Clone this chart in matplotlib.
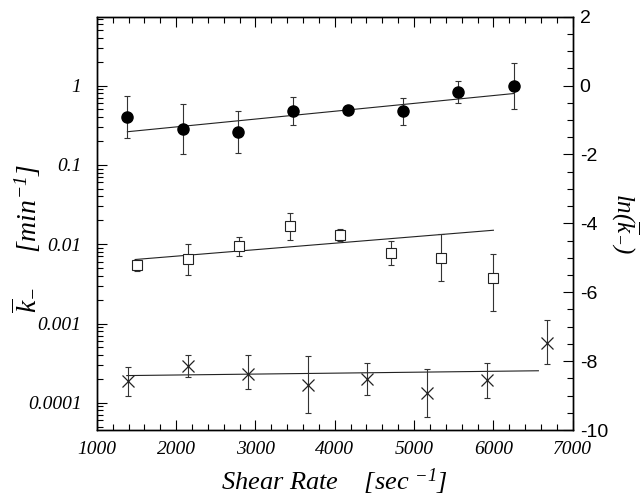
import numpy as np
import matplotlib
matplotlib.use('Agg')
import matplotlib.pyplot as plt
from matplotlib.ticker import FixedLocator, MultipleLocator, LogLocator, NullFormatter

plt.rcParams['mathtext.fontset'] = 'custom'
plt.rcParams['mathtext.rm'] = 'Liberation Serif:italic'
plt.rcParams['mathtext.it'] = 'Liberation Serif:italic'
plt.rcParams['axes.unicode_minus'] = False

# shear rate [1/sec] and ln(k) values
circ_x = [1386, 2092, 2785, 3475, 4168, 4861, 5558, 6260]
circ_ln = [-0.91, -1.26, -1.35, -0.73, -0.71, -0.73, -0.20, -0.02]
circ_lo = [-1.51, -1.99, -1.97, -1.14, -0.82, -1.14, -0.52, -0.68]
circ_hi = [-0.31, -0.53, -0.73, -0.33, -0.60, -0.35, 0.13, 0.65]

sq_x = [1512, 2155, 2794, 3437, 4067, 4706, 5340, 5992]
sq_ln = [-5.20, -5.04, -4.67, -4.08, -4.35, -4.85, -5.02, -5.59]
sq_lo = [-5.39, -5.51, -4.94, -4.49, -4.52, -5.22, -5.68, -6.55]
sq_hi = [-5.05, -4.59, -4.41, -3.71, -4.15, -4.51, -4.32, -4.90]

x_x = [1399, 2155, 2911, 3660, 4411, 5160, 5916, 6680]
x_ln = [-8.58, -8.15, -8.37, -8.68, -8.51, -8.92, -8.56, -7.47]
x_lo = [-9.00, -8.47, -8.82, -9.51, -8.97, -9.61, -9.08, -8.08]
x_hi = [-8.17, -7.81, -7.83, -7.85, -8.06, -8.24, -8.06, -6.82]

# fitted lines (end points)
circ_fit_x = [1386, 6260]
circ_fit_ln = [-1.34, -0.23]
sq_fit_x = [1483, 6000]
sq_fit_ln = [-5.05, -4.20]
x_fit_x = [1378, 6567]
x_fit_ln = [-8.42, -8.28]

left_ticks = [1e-4, 1e-3, 1e-2, 1e-1, 1]
left_labels = ['0.0001', '0.001', '0.01', '0.1', '1']
x_ticks = [1000, 2000, 3000, 4000, 5000, 6000, 7000]

fig = plt.figure(figsize=(6.41, 4.97), dpi=100)
ax = fig.add_axes([0.151, 0.1348, 0.7425, 0.8316])
ax.set_yscale('log')
ax.set_ylim(np.exp(-10), np.exp(2))
ax.set_xlim(1000, 7000)
ax2 = ax.twinx()
ax2.set_ylim(-10, 2)

serif = {'family': 'Liberation Serif', 'style': 'italic'}

def draw(xs, ln, lo, hi, fx, fy, **kw):
    err = [np.array(ln) - np.array(lo), np.array(hi) - np.array(ln)]
    ax2.errorbar(xs, ln, yerr=err, fmt='none', ecolor='#333333',
                 elinewidth=0.8, capsize=2.5, capthick=0.8, zorder=2)
    ax2.plot(fx, fy, color='#222222', lw=0.8, zorder=1)
    ax2.plot(xs, ln, linestyle='none', zorder=3, **kw)

draw(circ_x, circ_ln, circ_lo, circ_hi, circ_fit_x, circ_fit_ln,
     marker='o', markersize=8, color='black')
draw(sq_x, sq_ln, sq_lo, sq_hi, sq_fit_x, sq_fit_ln,
     marker='s', markersize=7.5, markerfacecolor='white', markeredgecolor='#222222', markeredgewidth=0.8)
draw(x_x, x_ln, x_lo, x_hi, x_fit_x, x_fit_ln,
     marker='x', markersize=9, color='#222222', markeredgewidth=0.9)

# left axis
ax.yaxis.set_major_locator(FixedLocator(left_ticks))
ax.set_yticklabels(left_labels, fontdict=serif, fontsize=14)
ax.yaxis.set_minor_locator(LogLocator(base=10, subs=np.arange(2, 10)))
ax.yaxis.set_minor_formatter(NullFormatter())
ax.xaxis.set_major_locator(FixedLocator(x_ticks))
ax.set_xticklabels([str(t) for t in x_ticks], fontdict=serif, fontsize=14)
ax.xaxis.set_minor_locator(MultipleLocator(200))
ax.tick_params(which='both', direction='in', top=True, right=False, width=0.8)
ax.tick_params(which='major', length=7)
ax.tick_params(axis='x', which='major', pad=8)
ax.tick_params(axis='y', which='major', pad=11)
ax.tick_params(which='minor', length=4)

# right axis
ax2.yaxis.set_major_locator(MultipleLocator(2))
ax2.yaxis.set_minor_locator(MultipleLocator(0.5))
ax2.tick_params(which='both', direction='in', left=False, right=True, width=0.8)
ax2.tick_params(which='major', length=7, labelsize=14, pad=5)
ax2.tick_params(which='minor', length=4)
for lab in ax2.get_yticklabels():
    lab.set_family('Liberation Sans')

for a in (ax, ax2):
    for s in a.spines.values():
        s.set_linewidth(1.0)

ax.set_xlabel(r'Shear Rate    [sec $^{-1}$]', fontdict=serif, fontsize=19, labelpad=6)
ax.set_ylabel(r'$\overline{k}_{-}$     [$min^{-1}$]', fontdict=serif, fontsize=20)
ax.yaxis.set_label_coords(-0.112, 0.465)
ax2.set_ylabel(r'$ln(\overline{k}_{-})$', fontdict=serif, fontsize=18, rotation=270, labelpad=24)

fig.savefig('out.png', dpi=100)
